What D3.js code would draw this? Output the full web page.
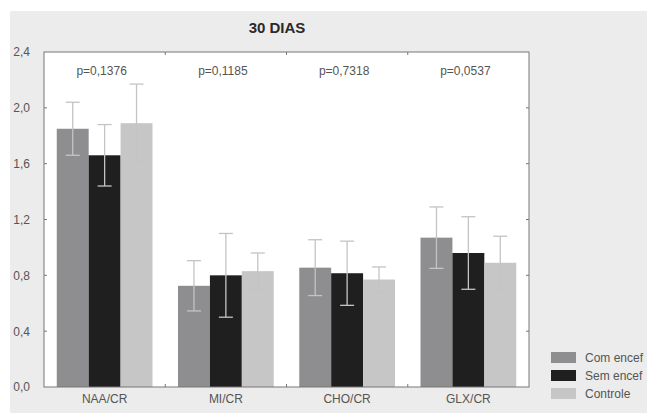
<!DOCTYPE html>
<html>
<head>
<meta charset="utf-8">
<script src="https://cdn.jsdelivr.net/npm/d3@7"></script>
<style>
  html, body { margin: 0; padding: 0; background: #ffffff; }
  svg { display: block; font-family: "Liberation Sans", Arial, sans-serif; }
</style>
</head>
<body>
<svg id="chart" width="647" height="413"></svg>
<script>
// Metabolite ratios at 30 days, by group
const categories = ["NAA/CR", "MI/CR", "CHO/CR", "GLX/CR"];
const groups = ["Com encef", "Sem encef", "Controle"];
const meansCom = [1.85, 0.725, 0.855, 1.07];
const meansSem = [1.66, 0.80, 0.815, 0.96];
const meansCtrl = [1.89, 0.83, 0.77, 0.89];
const errCom = [0.19, 0.18, 0.20, 0.22];
const errSem = [0.22, 0.30, 0.23, 0.26];
const errCtrl = [0.28, 0.13, 0.09, 0.19];
const pValues = ["p=0,1376", "p=0,1185", "p=0,7318", "p=0,0537"];
const yTicks = [0, 0.4, 0.8, 1.2, 1.6, 2.0, 2.4];
const groupColors = ["#8e8e90", "#1f1f1f", "#c6c6c6"];

const means = [meansCom, meansSem, meansCtrl];
const errs = [errCom, errSem, errCtrl];
const FONT = "Liberation Sans, Arial, sans-serif";

const svg = d3.select("#chart");

// panel background
svg.append("rect").attr("x", 10).attr("y", 11).attr("width", 637).attr("height", 402)
  .attr("fill", "#ececec");

const plot = { left: 44, top: 52, right: 529, bottom: 387 };

const x = d3.scaleBand().domain(categories).range([plot.left, plot.right]).paddingInner(0).paddingOuter(0);
const xInner = d3.scaleBand().domain(groups).range([0, x.bandwidth()]).paddingInner(0).paddingOuter(0.4);
const y = d3.scaleLinear().domain([0, 2.4]).range([plot.bottom, plot.top]);

// plot area
svg.append("rect").attr("x", plot.left).attr("y", plot.top)
  .attr("width", plot.right - plot.left).attr("height", plot.bottom - plot.top)
  .attr("fill", "#ffffff");

// title
svg.append("text").attr("x", 277).attr("y", 33).attr("text-anchor", "middle")
  .attr("font-size", 15).attr("font-weight", "bold").attr("fill", "#2a2a2a")
  .text("30 DIAS");

// bars
const rows = [];
categories.forEach((c, i) => groups.forEach((g, j) => rows.push({ c, g, j, v: means[j][i], e: errs[j][i] })));

svg.append("g").selectAll("rect").data(rows).join("rect")
  .attr("x", d => x(d.c) + xInner(d.g))
  .attr("y", d => y(d.v))
  .attr("width", xInner.bandwidth())
  .attr("height", d => y(0) - y(d.v))
  .attr("fill", d => groupColors[d.j]);

// error bars
const eb = svg.append("g").attr("stroke", "#c4c4c4").attr("stroke-width", 1.3).attr("fill", "none");
const cap = 7;
rows.forEach(d => {
  const cx = x(d.c) + xInner(d.g) + xInner.bandwidth() / 2;
  const y1 = y(d.v + d.e), y0 = y(d.v - d.e);
  eb.append("line").attr("x1", cx).attr("x2", cx).attr("y1", y1).attr("y2", y0);
  eb.append("line").attr("x1", cx - cap).attr("x2", cx + cap).attr("y1", y1).attr("y2", y1);
  eb.append("line").attr("x1", cx - cap).attr("x2", cx + cap).attr("y1", y0).attr("y2", y0);
});

// y axis
const yAxis = d3.axisLeft(y).tickValues(yTicks).tickSize(0).tickPadding(14)
  .tickFormat(d => d3.format(".1f")(d).replace(".", ","));
const gy = svg.append("g").attr("transform", `translate(${plot.left},0)`).call(yAxis);
gy.select(".domain").remove();
gy.selectAll("text").attr("font-size", 12).attr("fill", "#555").attr("font-family", FONT);

// x axis labels
const xAxis = d3.axisBottom(x).tickSize(0).tickPadding(7);
const gx = svg.append("g").attr("transform", `translate(0,${plot.bottom})`).call(xAxis);
gx.select(".domain").remove();
gx.selectAll("text").attr("font-size", 12).attr("fill", "#555").attr("font-family", FONT);

// frame
svg.append("rect").attr("x", plot.left).attr("y", plot.top)
  .attr("width", plot.right - plot.left).attr("height", plot.bottom - plot.top)
  .attr("fill", "none").attr("stroke", "#777").attr("stroke-width", 1);

// small inward ticks on frame
const tk = svg.append("g").attr("stroke", "#777").attr("stroke-width", 1);
categories.slice(1).forEach(c => {
  const bx = x(c);
  tk.append("line").attr("x1", bx).attr("x2", bx).attr("y1", plot.top).attr("y2", plot.top + 3);
  tk.append("line").attr("x1", bx).attr("x2", bx).attr("y1", plot.bottom).attr("y2", plot.bottom - 3);
});
yTicks.slice(1, -1).forEach(t => {
  tk.append("line").attr("x1", plot.left).attr("x2", plot.left + 3).attr("y1", y(t)).attr("y2", y(t));
  tk.append("line").attr("x1", plot.right).attr("x2", plot.right - 3).attr("y1", y(t)).attr("y2", y(t));
});

// p-values
svg.append("g").selectAll("text").data(categories).join("text")
  .attr("x", (c, i) => x(c) + x.bandwidth() / 2 - 3)
  .attr("y", 75)
  .attr("text-anchor", "middle")
  .attr("font-size", 12).attr("fill", "#555")
  .text((c, i) => pValues[i]);

// legend
const leg = svg.append("g").attr("transform", "translate(551,352)");
groups.forEach((g, j) => {
  const row = leg.append("g").attr("transform", `translate(0,${j * 18})`);
  row.append("rect").attr("width", 25).attr("height", 11).attr("fill", groupColors[j]);
  row.append("text").attr("x", 34).attr("y", 10).attr("font-size", 12).attr("fill", "#555").text(g);
});
</script>
</body>
</html>
